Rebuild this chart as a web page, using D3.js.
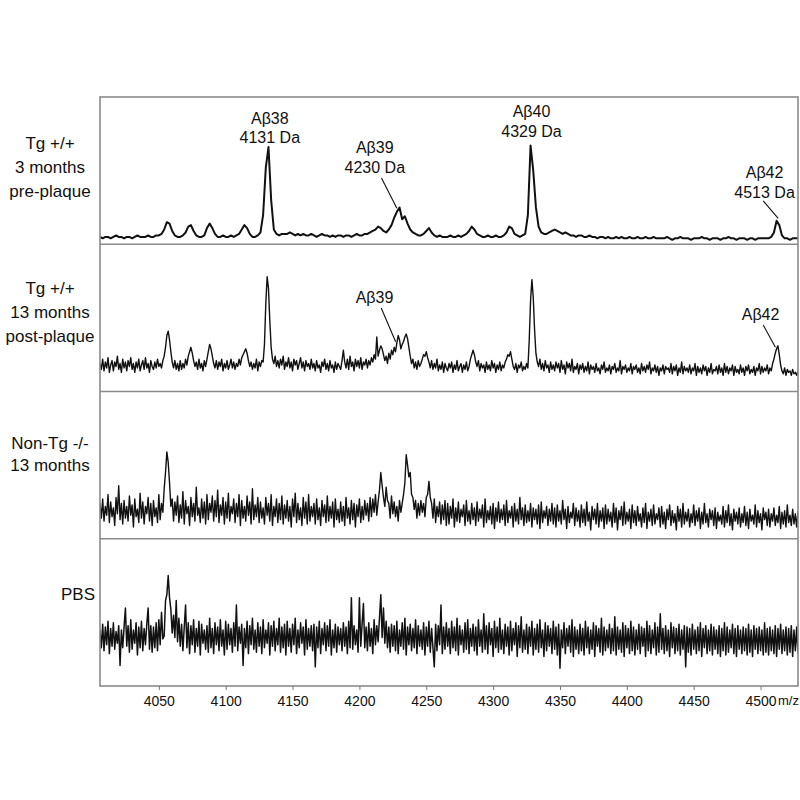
<!DOCTYPE html>
<html><head><meta charset="utf-8">
<script src="https://cdn.jsdelivr.net/npm/d3@7/dist/d3.min.js"></script>
<style>body{margin:0;background:#fff} text{font-family:"Liberation Sans",Arial,sans-serif;fill:#111}</style>
</head><body><svg id="c" width="800" height="800"></svg>
<script>
// m/z axis
const mzStart = 4006, mzEnd = 4528;
const xTicks = [4050, 4100, 4150, 4200, 4250, 4300, 4350, 4400, 4450, 4500];
const panelLabels = [["Tg +/+", "3 months", "pre-plaque"], ["Tg +/+", "13 months", "post-plaque"], ["Non-Tg -/-", "13 months"], ["PBS"]];

// relative intensity (0-100 of panel height); tg3 every 2 Da, the others every 1 Da, from 4006
const tg3Step = 2;
const tg3 = [
5,4,5,5,4,5,6,5,5,4, 5,5,4,5,6,5,5,5,6,5, 5,6,6,7,10,15,14,9,6,5, 5,6,8,12,13,9,6,5,5,6,
11,14,11,7,5,5,6,5,5,6, 5,6,7,10,13,11,7,5,5,6, 8,20,52,66,30,10,7,6,7,7, 7,8,7,6,7,6,7,6,6,7,
6,5,6,7,6,6,5,6,5,6, 6,5,6,6,5,6,7,6,6,7, 7,8,9,10,12,11,9,8,10,13, 18,22,25,17,19,14,10,8,7,6,
6,7,9,11,8,6,5,6,5,5, 5,6,5,5,6,5,6,7,9,12, 10,7,6,5,5,6,5,5,6,5, 5,6,8,12,11,7,6,5,6,7,
20,67,50,25,12,8,7,7,8,9, 10,9,8,7,8,7,6,6,5,6, 6,5,5,6,5,5,4,5,5,4, 5,4,4,5,4,5,4,4,5,4,
4,5,4,4,5,4,4,5,4,4, 4,4,5,4,3,4,4,5,4,4, 4,3,4,4,4,5,4,4,3,4, 4,4,3,4,4,5,4,4,3,4,
4,4,3,4,4,3,4,4,4,4, 4,5,8,16,13,6,4,4,3,4, 4,4];

const tg13Step = 1;
const tg13 = [
19,15,22,14,20,16,23,13,18,21, 14,20,17,24,15,19,13,22,16,20,
14,21,17,23,15,19,13,20,16,22, 14,18,21,15,23,16,19,13,21,17,
15,20,16,22,17,19,16,21,24,30, 38,41,35,27,20,16,21,15,19,14,
21,15,19,16,22,18,24,27,30,26, 21,17,20,15,22,16,19,14,21,17,
22,27,32,29,24,19,16,21,15,20, 17,22,14,19,16,21,15,18,22,16,
20,15,19,17,22,18,23,25,27,29, 26,21,17,20,15,19,16,22,14,20,
17,21,20,32,60,78,70,48,30,22, 19,24,17,21,16,22,18,24,15,20,
17,23,16,20,14,22,18,21,15,19, 23,16,20,14,21,17,19,15,22,16,
19,14,21,16,18,13,20,17,22,15, 19,14,21,16,18,13,20,15,19,17,
15,21,28,20,16,22,15,24,17,20, 14,22,17,21,16,23,15,20,18,22,
16,21,18,23,20,25,22,37,24,28, 31,29,25,21,24,19,26,22,28,25,
30,27,33,38,35,29,32,34,37,39, 36,30,24,19,22,16,20,15,21,17,
19,22,25,24,27,23,20,16,21,15, 19,16,22,14,18,15,20,13,19,16,
14,19,16,20,13,18,15,21,14,17, 19,13,18,15,20,14,17,22,25,28,
25,20,17,21,14,19,16,18,13,20, 15,18,14,21,16,19,13,18,15,20,
14,18,16,20,22,25,24,27,22,17, 15,19,13,18,16,20,14,17,15,19,
16,35,62,76,64,42,26,20,17,22, 15,19,14,21,16,18,13,20,15,18,
14,20,16,19,13,21,15,18,12,20, 16,19,14,22,13,17,15,19,12,18,
15,19,13,17,14,20,12,18,15,17, 13,19,14,16,12,18,15,20,13,16,
14,18,12,17,15,19,13,16,14,21, 12,17,15,18,13,16,14,19,12,17,
15,18,13,16,12,19,14,17,13,18, 15,20,12,16,14,18,13,17,11,16,
14,18,12,17,15,16,13,19,12,17, 14,18,11,16,13,20,12,17,14,16,
13,18,12,16,14,19,11,17,13,16, 12,18,14,17,11,16,13,19,12,15,
14,17,12,18,13,16,11,19,13,17, 12,16,14,18,11,17,13,15,12,18,
13,16,11,17,14,18,12,15,13,17, 11,16,14,19,12,17,13,16,14,18,
12,16,14,19,22,26,29,31,25,18, 14,12,16,11,15,13,14,11,15,12,
13,11,14];

const nonTgStep = 1;
const nonTg13 = [
24,14,27,12,22,16,30,11,25,15, 21,9,28,17,36,13,24,10,26,14,
22,12,29,16,23,8,27,15,20,11, 31,14,25,10,22,17,28,12,24,9,
26,15,21,11,30,13,24,18,34,45, 59,52,38,22,27,12,25,16,29,11,
23,14,32,10,26,17,22,9,28,15, 24,12,35,16,21,11,27,14,25,10,
30,13,24,18,29,12,26,15,33,11, 23,16,28,10,25,14,31,12,22,17,
27,11,24,15,30,9,26,14,22,12, 29,16,25,10,34,13,23,15,28,11,
25,14,21,10,28,16,24,12,30,9, 22,15,27,11,24,13,29,10,23,14,
26,12,22,8,27,15,31,11,24,13, 21,9,28,14,25,10,30,12,22,15,
24,10,27,13,21,9,26,15,23,11, 29,12,22,14,25,8,27,13,20,11,
25,12,22,9,28,14,21,10,26,13, 24,8,23,15,27,11,22,13,26,16,
24,12,28,15,27,18,30,16,25,33, 45,36,28,22,35,26,24,14,29,17,
25,15,22,12,26,18,24,30,38,57, 50,42,45,30,28,20,26,14,24,16,
26,18,24,15,28,30,39,28,24,14, 27,11,22,15,25,10,23,13,26,9,
24,10,22,14,27,8,21,12,25,11, 20,15,23,9,26,12,19,10,24,13,
21,9,25,12,20,14,23,8,27,11, 19,13,22,10,24,7,21,12,25,11,
20,13,23,9,26,11,19,14,22,8, 24,12,20,10,28,13,21,9,23,11,
19,12,24,8,21,13,20,10,23,7, 25,11,19,14,22,9,20,12,24,10,
21,8,23,12,19,10,26,13,20,7, 22,11,18,14,24,9,21,12,19,8,
23,11,20,9,25,12,18,6,22,13, 20,10,24,8,19,12,21,7,23,10,
20,12,18,8,24,11,21,6,19,13, 22,9,25,10,18,12,20,7,23,11,
19,9,22,12,17,8,21,11,24,7, 18,12,20,9,23,10,17,13,21,8,
22,10,18,7,20,13,23,9,19,11, 17,6,22,12,20,8,24,10,18,12,
20,8,17,11,23,9,19,12,21,7, 18,10,24,11,17,8,20,13,19,9,
21,7,18,12,16,10,22,8,19,11, 23,9,17,6,20,12,18,10,21,8,
17,11,22,9,18,7,20,12,16,10, 23,8,19,11,17,6,21,13,18,9,
20,8,17,12,21,9,16,11,22,7, 18,10,19,8,23,11,16,9,20,10,
17,8,19];

const pbsStep = 1;
const pbs = [
38,26,42,24,40,28,44,22,39,27, 43,25,37,29,41,14,38,26,40,53,
27,41,23,45,25,38,29,43,21,40, 26,44,24,39,28,42,53,25,41,23,
40,26,43,24,45,28,50,32,34,58, 62,75,60,52,36,48,33,58,30,46,
27,42,24,40,55,26,43,22,41,28, 45,23,39,27,44,21,42,29,38,25,
41,23,46,26,39,22,43,28,40,24, 45,27,38,21,44,25,42,28,39,23,
43,27,55,24,40,29,42,14,39,26, 44,22,41,28,46,25,38,23,43,27,
40,22,45,26,38,29,43,21,41,27, 44,24,39,28,46,23,40,26,42,21,
44,27,39,23,42,28,46,22,38,26, 43,29,40,21,45,25,39,27,41,24,
42,13,40,26,44,22,39,28,43,24, 41,27,45,21,38,26,42,23,40,28,
39,24,43,27,40,22,44,26,60,25, 41,28,38,23,60,27,42,56,26,40,
24,43,27,39,22,45,28,41,30,46, 62,33,53,29,44,26,40,23,42,27,
41,24,44,22,38,27,43,25,46,21, 40,28,42,24,39,26,45,22,41,27,
38,25,43,21,40,27,44,23,39,26, 13,42,24,41,28,55,22,40,25,43,
27,39,22,44,26,40,24,46,21,41, 28,38,23,43,25,45,22,39,27,42,
24,40,21,45,27,38,23,49,25,41, 22,43,28,39,20,44,26,40,23,46,
25,38,22,42,27,40,21,44,24,39, 28,43,20,41,26,47,23,38,25,42,
22,40,27,44,21,39,25,42,23,45, 26,38,20,43,24,41,27,39,22,44,
25,40,21,42,12,38,26,43,22,39, 27,41,23,45,20,40,25,38,22,42,
24,39,21,44,26,40,22,38,25,43, 20,41,27,39,23,46,21,40,24,38,
26,42,22,39,24,47,21,40,25,38, 23,43,20,41,26,39,22,44,24,40,
21,38,25,42,22,40,27,39,20,44, 24,41,22,38,26,43,21,40,23,49,
25,39,22,41,24,38,20,43,26,40, 22,39,24,42,21,38,25,41,13,40,
23,39,21,42,25,38,22,40,24,43, 20,39,26,41,22,38,24,42,21,40,
25,38,22,41,20,39,24,43,21,40, 23,38,26,42,22,39,20,41,25,38,
22,40,24,39,21,42,23,38,20,41, 25,39,22,40,24,38,21,43,23,39,
21,40,24,38,22,41,20,39,25,42, 22,38,24,40,21,39,23,41,20,38,
24,40,22];

const spectra = [tg3, tg13, nonTg13, pbs];
const steps = [tg3Step, tg13Step, nonTgStep, pbsStep];

// peak annotations in data coordinates (m/z, relative intensity)
const annotations = [
  {panel:0, lines:["Aβ38","4131 Da"], mz:4133, v:[82,69], arrow:null},
  {panel:0, lines:["Aβ39","4230 Da"], mz:4211.5, v:[62,48.2], arrow:[4216.5,45,4228,24.4]},
  {panel:0, lines:["Aβ40","4329 Da"], mz:4328.7, v:[86.2,73], arrow:null},
  {panel:0, lines:["Aβ42","4513 Da"], mz:4503, v:[44.8,31.2], arrow:[4502,29.4,4513.2,17.6]},
  {panel:1, lines:["Aβ39"], mz:4211.3, v:[59.9], arrow:[4216.3,56.7,4227.1,33.8]},
  {panel:1, lines:["Aβ42"], mz:4500, v:[48.6], arrow:[4502,45.2,4511.1,30]}
];

const L = 100, R = 798, T = 97, B = 686;
const nP = spectra.length, ph = (B - T) / nP;
const svg = d3.select("#c");
const x = d3.scaleLinear().domain([mzStart, mzEnd]).range([L, R]);
const ys = spectra.map((s, i) => d3.scaleLinear().domain([0, 100]).range([T + (i + 1) * ph, T + i * ph]));

const defs = svg.append("defs");
spectra.forEach((s, i) => {
  defs.append("clipPath").attr("id", "cp" + i).append("rect")
    .attr("x", L).attr("y", T + i * ph).attr("width", R - L).attr("height", ph);
});

const widths = [2.0, 1.4, 1.4, 1.5];
spectra.forEach((s, i) => {
  const line = d3.line().x((d, j) => x(mzStart + j * steps[i])).y(d => ys[i](d));
  svg.append("path").datum(s).attr("clip-path", "url(#cp" + i + ")")
    .attr("d", line).attr("fill", "none").attr("stroke", "#111")
    .attr("stroke-width", widths[i]).attr("stroke-linejoin", "round");
});

// frame and dividers
svg.append("rect").attr("x", L).attr("y", T).attr("width", R - L).attr("height", B - T)
  .attr("fill", "none").attr("stroke", "#8a8a8a").attr("stroke-width", 1.6);
for (let i = 1; i < nP; i++) {
  svg.append("line").attr("x1", L).attr("x2", R).attr("y1", T + i * ph).attr("y2", T + i * ph)
    .attr("stroke", "#8a8a8a").attr("stroke-width", 1.6);
}

// x axis
const ax = svg.append("g").attr("transform", `translate(0,${B})`)
  .call(d3.axisBottom(x).tickValues(xTicks).tickSize(4).tickFormat(d3.format("d")));
ax.select(".domain").remove();
ax.selectAll("line").attr("stroke", "#777");
ax.selectAll("text").attr("font-size", 14).attr("fill", "#111").attr("dy", "0.95em")
  .style("font-family", "'Liberation Sans', Arial, sans-serif");
svg.append("text").attr("x", 778).attr("y", B + 19).attr("font-size", 13).text("m/z");

// panel labels
const labelY = [[52, 76, 100], [50, 74, 98], [57, 79], [61]];
panelLabels.forEach((lines, i) => {
  const isLast = lines.length === 1;
  lines.forEach((t, k) => {
    svg.append("text").attr("x", isLast ? 95 : 50).attr("y", T + i * ph + labelY[i][k])
      .attr("text-anchor", isLast ? "end" : "middle").attr("font-size", 17).text(t);
  });
});

// annotations
annotations.forEach(a => {
  const y = ys[a.panel];
  a.lines.forEach((t, k) => {
    svg.append("text").attr("x", x(a.mz)).attr("y", y(a.v[k])).attr("text-anchor", "middle")
      .attr("font-size", 16).text(t);
  });
  if (a.arrow) {
    svg.append("line").attr("x1", x(a.arrow[0])).attr("y1", y(a.arrow[1]))
      .attr("x2", x(a.arrow[2])).attr("y2", y(a.arrow[3]))
      .attr("stroke", "#111").attr("stroke-width", 1.1);
  }
});

const expected = spectra.map((s, i) => Math.round((mzEnd - mzStart) / steps[i]) + 1);
const bad = spectra.map((s, i) => s.length - expected[i]).filter(v => v !== 0);
if (bad.length) throw new Error("length mismatch " + spectra.map(s => s.length).join(","));
</script></body></html>
